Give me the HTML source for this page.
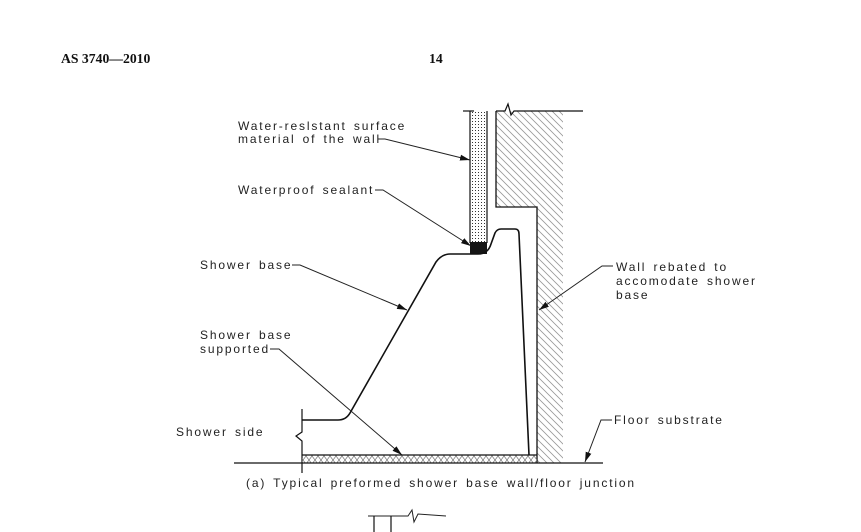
<!DOCTYPE html>
<html><head><meta charset="utf-8"><style>
html,body{margin:0;padding:0;background:#fff;}
svg{display:block;}
.t{font-family:"Liberation Sans",sans-serif;font-size:12px;letter-spacing:1.85px;word-spacing:2px;fill:#222;}
.h{font-family:"Liberation Serif",serif;font-size:13.7px;font-weight:bold;fill:#111;}
</style></head><body>
<svg width="861" height="532" viewBox="0 0 861 532" xmlns="http://www.w3.org/2000/svg">
<defs>
<pattern id="hatch" width="7" height="7" patternUnits="userSpaceOnUse">
<path d="M-1,-1 L8,8 M-1,6 L1,8 M6,-1 L8,1" stroke="#999" stroke-width="0.8"/>
</pattern>
<pattern id="dots" width="3" height="3" patternUnits="userSpaceOnUse">
<rect x="1" y="1" width="1" height="1" fill="#333"/>
</pattern>
<pattern id="xh" width="6" height="8" patternUnits="userSpaceOnUse">
<path d="M0,0 L6,8 M6,0 L0,8" stroke="#777" stroke-width="0.7"/>
</pattern>
<marker id="ar" viewBox="0 0 10 6" refX="10" refY="3" markerWidth="10" markerHeight="6" orient="auto" markerUnits="userSpaceOnUse">
<path d="M0,0 L10,3 L0,6 z" fill="#111"/>
</marker>
</defs>
<text class="h" x="61" y="63">AS 3740—2010</text>
<text class="h" x="429" y="63">14</text>

<path d="M496,111 L563,111 L563,463 L537,463 L537,207 L496,207 Z" fill="url(#hatch)"/>
<path d="M496,111 L496,207 L537,207 L537,463" fill="none" stroke="#111" stroke-width="1.3"/>
<path d="M496,111 L505,111 L508,104 L511,115 L514,111 L583,111" fill="none" stroke="#111" stroke-width="1.2"/>
<line x1="463" y1="111" x2="474" y2="111" stroke="#111" stroke-width="1.2"/>
<rect x="470" y="111" width="17" height="132" fill="url(#dots)"/>
<path d="M470,111 L470,243 M487,111 L487,243" stroke="#111" stroke-width="1.2"/>
<rect x="470" y="242" width="17" height="12" fill="#151515"/>

<path d="M302,420 L338,420 Q346,420 350,413 L436,262 Q442,254 450,254 L478,254 Q488,254 491,244 L495,233 Q497,229 501,229 L515,229 Q519,229 519,234 L529,455" fill="none" stroke="#111" stroke-width="1.6"/>
<path d="M302,409 L302,432 L296,436 L302,441 L302,473" fill="none" stroke="#111" stroke-width="1.2"/>
<rect x="302" y="455" width="235" height="8" fill="url(#xh)"/>
<line x1="302" y1="455" x2="537" y2="455" stroke="#111" stroke-width="1.2"/>
<line x1="234" y1="463" x2="603" y2="463" stroke="#111" stroke-width="1.3"/>

<g fill="none" stroke="#222" stroke-width="1">
<path d="M378,139 L385,139 L470,160" marker-end="url(#ar)"/>
<path d="M375,190 L383,190 L471,246" marker-end="url(#ar)"/>
<path d="M292,265 L300,265 L407,310" marker-end="url(#ar)"/>
<path d="M270,349 L279,349 L402,455" marker-end="url(#ar)"/>
<path d="M613,266 L602,266 L539,310" marker-end="url(#ar)"/>
<path d="M612,420 L601,420 L585,462" marker-end="url(#ar)"/>
</g>

<text class="t" x="238" y="130">Water-reslstant surface</text>
<text class="t" x="238" y="143">material of the wall</text>
<text class="t" x="238" y="194">Waterproof sealant</text>
<text class="t" x="200" y="269">Shower base</text>
<text class="t" x="200" y="339">Shower base</text>
<text class="t" x="200" y="353">supported</text>
<text class="t" x="176" y="436">Shower side</text>
<text class="t" x="616" y="271">Wall rebated to</text>
<text class="t" x="616" y="285">accomodate shower</text>
<text class="t" x="616" y="299">base</text>
<text class="t" x="614" y="424">Floor substrate</text>
<text class="t" x="246" y="487">(a)  Typical preformed shower base wall/floor junction</text>

<path d="M368,516 L408,516 L412,510 L414,522 L418,514 L446,516" fill="none" stroke="#222" stroke-width="1"/>
<line x1="374" y1="516" x2="374" y2="532" stroke="#111" stroke-width="1.2"/>
<line x1="391" y1="516" x2="391" y2="532" stroke="#111" stroke-width="1.2"/>
</svg>
</body></html>
